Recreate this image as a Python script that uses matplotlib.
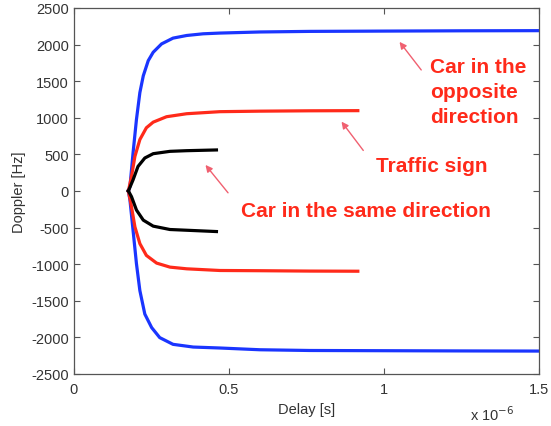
import matplotlib
matplotlib.use('Agg')
import matplotlib.pyplot as plt

plt.rcParams['font.family'] = ['Liberation Sans', 'DejaVu Sans']
plt.rcParams['axes.unicode_minus'] = False

# Delay in units of 1e-6 s, Doppler in Hz (upper / lower branches)
opp_delay_up = [0.176, 0.181, 0.191, 0.202, 0.213, 0.224, 0.240, 0.256, 0.283, 0.320, 0.364,
                0.417, 0.471, 0.60, 0.761, 1.0, 1.25, 1.5]
opp_dopp_up = [0, 59, 519, 977, 1344, 1573, 1780, 1895, 2009, 2088, 2124,
               2147, 2157, 2172, 2180, 2184, 2188, 2190]
opp_delay_lo = [0.176, 0.181, 0.191, 0.202, 0.213, 0.229, 0.251, 0.277, 0.320, 0.385,
                0.471, 0.60, 0.761, 1.0, 1.25, 1.5]
opp_dopp_lo = [0, -124, -537, -995, -1362, -1683, -1867, -2004, -2096, -2133,
               -2146, -2170, -2180, -2183, -2186, -2188]

sign_delay_up = [0.176, 0.186, 0.197, 0.213, 0.234, 0.256, 0.299, 0.364, 0.471, 0.60, 0.761, 0.916]
sign_dopp_up = [0, 197, 472, 702, 863, 940, 1014, 1055, 1083, 1090, 1095, 1097]
sign_delay_lo = [0.176, 0.186, 0.197, 0.213, 0.234, 0.267, 0.310, 0.364, 0.471, 0.60, 0.761, 0.916]
sign_dopp_lo = [0, -216, -491, -720, -881, -986, -1041, -1064, -1087, -1090, -1095, -1097]

same_delay_up = [0.176, 0.191, 0.207, 0.229, 0.256, 0.310, 0.364, 0.460]
same_dopp_up = [0, 151, 335, 450, 509, 541, 550, 560]
same_delay_lo = [0.176, 0.186, 0.202, 0.224, 0.256, 0.310, 0.364, 0.460]
same_dopp_lo = [0, -78, -261, -399, -481, -527, -537, -555]

xticks = [0, 0.5, 1, 1.5]
xticklabels = ['0', '0.5', '1', '1.5']
yticks = list(range(-2500, 2501, 500))

BLUE = '#1a35ff'
RED = '#ff2a1a'
TXT = '#ff2a1a'
ARR = '#f06070'

fig = plt.figure(figsize=(5.51, 4.27), dpi=100)
ax = fig.add_axes([0.134, 0.122, 0.844, 0.857])

lw = 2.3
ax.plot(opp_delay_up, opp_dopp_up, color=BLUE, lw=lw)
ax.plot(opp_delay_lo, opp_dopp_lo, color=BLUE, lw=lw)
ax.plot(sign_delay_up, sign_dopp_up, color=RED, lw=lw)
ax.plot(sign_delay_lo, sign_dopp_lo, color=RED, lw=lw)
ax.plot(same_delay_up, same_dopp_up, color='black', lw=lw)
ax.plot(same_delay_lo, same_dopp_lo, color='black', lw=lw)

ax.set_xlim(0, 1.5)
ax.set_ylim(-2500, 2500)
ax.set_xticks(xticks)
ax.set_xticklabels(xticklabels)
ax.set_yticks(yticks)
ax.tick_params(direction='in', top=True, right=True, length=4, width=0.8,
               color='#555555', labelcolor='#333333', labelsize=10.5)
ax.tick_params(axis='x', pad=6)
for s in ax.spines.values():
    s.set_color('#555555')
    s.set_linewidth(0.9)

ax.set_xlabel('Delay [s]', fontsize=10.5, color='#333333', labelpad=4)
ax.set_ylabel('Doppler [Hz]', fontsize=10.5, color='#333333', labelpad=4)
ax.text(0.948, -0.082, r'x 10$^{-6}$', transform=ax.transAxes, ha='right', va='top',
        fontsize=10.5, color='#333333')

# labels and arrows
arrow = dict(arrowstyle='-|>', color=ARR, lw=1.0, mutation_scale=10)
lab = dict(fontsize=15, fontweight='bold', color=TXT)
ax.text(1.148, 1362, 'Car in the\nopposite\ndirection', ha='left', va='center',
        linespacing=1.4, **lab)
ax.annotate('', xy=(1.045, 2067), xytext=(1.126, 1623), arrowprops=arrow)
ax.text(1.155, 348, 'Traffic sign', ha='center', va='center', **lab)
ax.annotate('', xy=(0.858, 977), xytext=(0.939, 523), arrowprops=arrow)
ax.text(0.942, -261, 'Car in the same direction', ha='center', va='center', **lab)
ax.annotate('', xy=(0.419, 385), xytext=(0.503, -55), arrowprops=arrow)

fig.savefig('out.png', dpi=100)
